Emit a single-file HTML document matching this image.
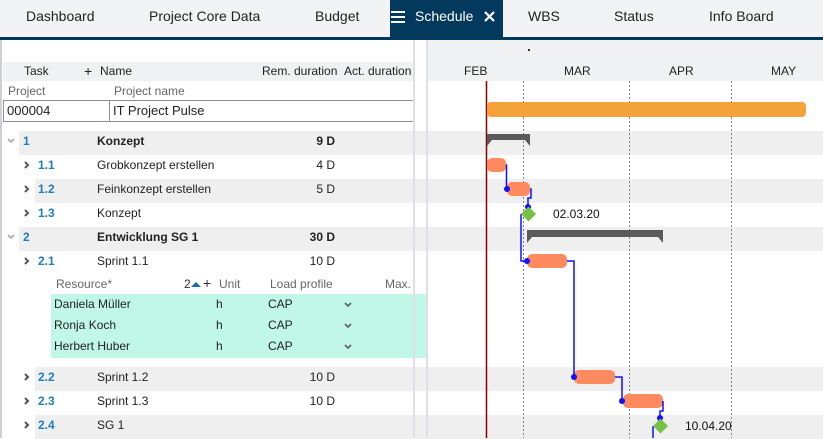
<!DOCTYPE html>
<html><head><meta charset="utf-8">
<style>
*{margin:0;padding:0;box-sizing:border-box}
body{width:823px;height:438px;overflow:hidden;background:#fff;font-family:"Liberation Sans",sans-serif;color:#222;position:relative}
.a{position:absolute;white-space:nowrap}
.nav{left:0;top:0;width:823px;height:37px;background:#f2f3f5}
.navline{left:0;top:37px;width:823px;height:3px;background:#03395c}
.tab{top:8px;font-size:14px;color:#222}
.t12{font-size:12px;line-height:14px}
.b{font-weight:bold}
.blue{color:#1f7fb8;font-weight:bold}
.band{background:#efefef;height:24px}
.dur{width:60px;text-align:right}
</style></head><body>
<div class="a nav"></div>
<div class="a" style="left:390px;top:0;width:113px;height:37px;background:#03395c"></div>
<div class="a navline"></div>
<div class="a tab" style="left:26px">Dashboard</div>
<div class="a tab" style="left:149px">Project Core Data</div>
<div class="a tab" style="left:315px">Budget</div>
<svg class="a" style="left:391px;top:10px" width="14" height="14"><rect x="0" y="1" width="14" height="2" fill="#fff"/><rect x="0" y="6" width="14" height="2" fill="#fff"/><rect x="0" y="11" width="14" height="2" fill="#fff"/></svg>
<div class="a tab" style="left:415px;color:#fff">Schedule</div>
<svg class="a" style="left:484px;top:11px" width="11" height="11"><path d="M1 1L10 10M10 1L1 10" stroke="#fff" stroke-width="2.2"/></svg>
<div class="a tab" style="left:528px">WBS</div>
<div class="a tab" style="left:614px">Status</div>
<div class="a tab" style="left:709px">Info Board</div>

<!-- left panel -->
<div class="a" style="left:0;top:40px;width:2px;height:398px;background:#cfcfd6"></div>
<div class="a" style="left:3px;top:62px;width:410px;height:19px;background:#f0f1f3"></div>
<div class="a t12" style="left:24px;top:64px">Task</div>
<div class="a t12" style="left:84px;top:64px;font-size:14px;line-height:14px">+</div>
<div class="a t12" style="left:100px;top:64px">Name</div>
<div class="a t12" style="left:262px;top:64px">Rem. duration</div>
<div class="a t12" style="left:344px;top:64px">Act. duration</div>
<div class="a t12" style="left:8px;top:84px;color:#666">Project</div>
<div class="a t12" style="left:114px;top:84px;color:#666">Project name</div>
<div class="a" style="left:3px;top:100px;width:107px;height:22px;border:1px solid #8a8f99"></div>
<div class="a" style="left:109px;top:100px;width:305px;height:22px;border:1px solid #8a8f99;border-left:1px solid #8a8f99"></div>
<div class="a" style="left:7px;top:103px;font-size:13px">000004</div>
<div class="a" style="left:113px;top:103px;font-size:13px">IT Project Pulse</div>

<!-- bands left -->
<div class="a band" style="left:19px;top:131px;width:394px"></div>
<div class="a band" style="left:35px;top:179px;width:378px"></div>
<div class="a band" style="left:19px;top:227px;width:394px"></div>
<div class="a band" style="left:35px;top:367px;width:378px"></div>
<div class="a band" style="left:35px;top:415px;width:378px"></div>
<!-- bands right -->
<div class="a band" style="left:415px;top:131px;width:408px"></div>
<div class="a band" style="left:415px;top:179px;width:408px"></div>
<div class="a band" style="left:415px;top:227px;width:408px"></div>
<div class="a band" style="left:415px;top:367px;width:408px"></div>
<div class="a band" style="left:415px;top:415px;width:408px"></div>

<!-- chevrons -->
<svg class="a" style="left:0;top:0" width="823" height="438">
<g fill="none" stroke="#aaa" stroke-width="1.6">
<path d="M8 139l3 3l3-3"/><path d="M8 235l3 3l3-3"/>
</g>
<g fill="none" stroke="#555" stroke-width="2">
<path d="M25 162l3 3l-3 3"/><path d="M25 186l3 3l-3 3"/><path d="M25 210l3 3l-3 3"/><path d="M25 258l3 3l-3 3"/><path d="M25 374l3 3l-3 3"/><path d="M25 398l3 3l-3 3"/><path d="M25 422l3 3l-3 3"/>
</g>
</svg>

<div class="a t12 blue" style="left:23px;top:134px">1</div>
<div class="a t12 b" style="left:97px;top:134px">Konzept</div>
<div class="a t12 b dur" style="left:275px;top:134px">9 D</div>
<div class="a t12 blue" style="left:38px;top:158px">1.1</div>
<div class="a t12" style="left:97px;top:158px">Grobkonzept erstellen</div>
<div class="a t12 b dur" style="left:275px;top:158px;font-weight:normal">4 D</div>
<div class="a t12 blue" style="left:38px;top:182px">1.2</div>
<div class="a t12" style="left:97px;top:182px">Feinkonzept erstellen</div>
<div class="a t12 dur" style="left:275px;top:182px">5 D</div>
<div class="a t12 blue" style="left:38px;top:206px">1.3</div>
<div class="a t12" style="left:97px;top:206px">Konzept</div>
<div class="a t12 blue" style="left:23px;top:230px">2</div>
<div class="a t12 b" style="left:97px;top:230px">Entwicklung SG 1</div>
<div class="a t12 b dur" style="left:275px;top:230px">30 D</div>
<div class="a t12 blue" style="left:38px;top:254px">2.1</div>
<div class="a t12" style="left:97px;top:254px">Sprint 1.1</div>
<div class="a t12 dur" style="left:275px;top:254px">10 D</div>

<!-- resources -->
<div class="a" style="left:51px;top:294px;width:375px;height:64px;background:#c1f7e6"></div>
<div class="a t12" style="left:56px;top:277px;color:#666">Resource*</div>
<div class="a t12" style="left:184px;top:277px;color:#333">2</div>
<svg class="a" style="left:191px;top:281px" width="10" height="6"><path d="M0 6L5 1L10 6Z" fill="#1f6fa8"/></svg>
<div class="a t12" style="left:203px;top:276px;font-size:14px;color:#333">+</div>
<div class="a t12" style="left:219px;top:277px;color:#666">Unit</div>
<div class="a t12" style="left:270px;top:277px;color:#666">Load profile</div>
<div class="a t12" style="left:385px;top:277px;color:#666">Max.</div>
<div class="a t12" style="left:54px;top:297px">Daniela Müller</div>
<div class="a t12" style="left:54px;top:318px">Ronja Koch</div>
<div class="a t12" style="left:54px;top:339px">Herbert Huber</div>
<div class="a t12" style="left:216px;top:297px">h</div>
<div class="a t12" style="left:216px;top:318px">h</div>
<div class="a t12" style="left:216px;top:339px">h</div>
<div class="a t12" style="left:268px;top:297px">CAP</div>
<div class="a t12" style="left:268px;top:318px">CAP</div>
<div class="a t12" style="left:268px;top:339px">CAP</div>
<svg class="a" style="left:0;top:0" width="823" height="438">
<g fill="none" stroke="#666" stroke-width="1.8"><path d="M345 303l3 3l3-3"/><path d="M345 324l3 3l3-3"/><path d="M345 345l3 3l3-3"/></g>
</svg>

<div class="a t12 blue" style="left:38px;top:370px">2.2</div>
<div class="a t12" style="left:97px;top:370px">Sprint 1.2</div>
<div class="a t12 dur" style="left:275px;top:370px">10 D</div>
<div class="a t12 blue" style="left:38px;top:394px">2.3</div>
<div class="a t12" style="left:97px;top:394px">Sprint 1.3</div>
<div class="a t12 dur" style="left:275px;top:394px">10 D</div>
<div class="a t12 blue" style="left:38px;top:418px">2.4</div>
<div class="a t12" style="left:97px;top:418px">SG 1</div>

<!-- gantt header -->
<div class="a" style="left:428px;top:40px;width:395px;height:41px;background:#f0f1f3"></div>
<div class="a" style="left:528px;top:49px;width:2px;height:2px;background:#333"></div>
<div class="a t12" style="left:464px;top:64px">FEB</div>
<div class="a t12" style="left:564px;top:64px">MAR</div>
<div class="a t12" style="left:669px;top:64px">APR</div>
<div class="a t12" style="left:771px;top:64px">MAY</div>

<!-- splitters -->
<div class="a" style="left:413px;top:40px;width:2px;height:398px;background:#e3dde8"></div>
<div class="a" style="left:426px;top:40px;width:2px;height:398px;background:#e3dde8"></div>

<svg class="a" style="left:0;top:0" width="823" height="438">
<g stroke="#7a8190" stroke-width="1" stroke-dasharray="2,2">
<line x1="523.5" y1="81" x2="523.5" y2="438"/>
<line x1="629.5" y1="81" x2="629.5" y2="438"/>
<line x1="731.5" y1="81" x2="731.5" y2="438"/>
</g>
<line x1="486.5" y1="81" x2="486.5" y2="438" stroke="#8b0000" stroke-width="1.5"/>
<rect x="487" y="102" width="319" height="15" rx="4" fill="#f4a23a"/>
<!-- summary bars -->
<path d="M487 134H530V146L525 140H492L487 146Z" fill="#5a5a5a"/>
<path d="M527 230H663V243L658 237H532L527 243Z" fill="#5a5a5a"/>
<!-- task bars -->
<rect x="487" y="158" width="19" height="14" rx="5" fill="#fd8b5f"/>
<rect x="507" y="182" width="23" height="14" rx="5" fill="#fd8b5f"/>
<rect x="527" y="254" width="40" height="14" rx="5" fill="#fd8b5f"/>
<rect x="574" y="370" width="41" height="14" rx="5" fill="#fd8b5f"/>
<rect x="623" y="394" width="40" height="14" rx="5" fill="#fd8b5f"/>
<!-- connectors -->
<g fill="none" stroke="#1010ff" stroke-width="1.5">
<path d="M506 165H506.5V189H507"/>
<path d="M530 189H531V198H528V207"/>
<path d="M521 214V261H527"/>
<path d="M567 261H574V377"/>
<path d="M615 377H622V401"/>
<path d="M663 401V411H660V418"/>
<path d="M653 426V438"/>
</g>
<g fill="#1010ff">
<circle cx="507" cy="189" r="3"/>
<circle cx="528" cy="207" r="3"/>
<circle cx="527" cy="261" r="3"/>
<circle cx="574" cy="377" r="3"/>
<circle cx="622" cy="401" r="3"/>
<circle cx="660" cy="418" r="3"/>
</g>
<path d="M528.5 206.5L536 214L528.5 221.5L521 214Z" fill="#76c043"/>
<path d="M660.5 418.5L668 426L660.5 433.5L653 426Z" fill="#76c043"/>
<text x="553" y="218" font-family="Liberation Sans, sans-serif" font-size="12" fill="#111">02.03.20</text>
<text x="685" y="430" font-family="Liberation Sans, sans-serif" font-size="12" fill="#111">10.04.20</text>
</svg>
</body></html>
